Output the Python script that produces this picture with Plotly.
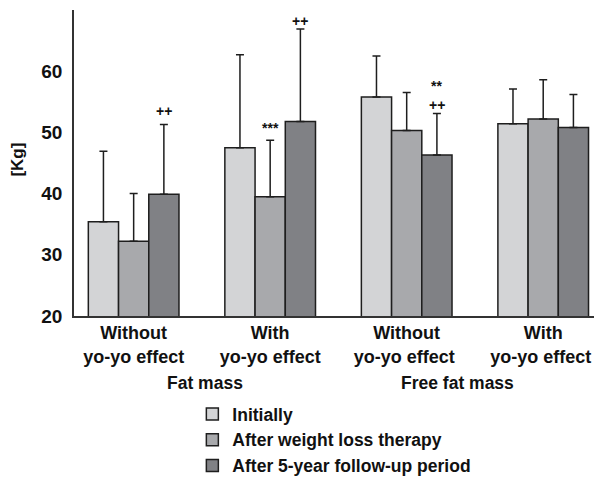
import plotly.graph_objects as go

groups = ["Without<br>yo-yo effect", "With<br>yo-yo effect", "Without<br>yo-yo effect ", "With<br>yo-yo effect "]
series_names = ["Initially", "After weight loss therapy", "After 5-year follow-up period"]
initially = [35.4, 47.5, 55.8, 51.4]
after_loss = [32.2, 39.5, 50.3, 52.2]
after_follow = [39.9, 51.8, 46.3, 50.8]
sd_initially = [11.5, 15.2, 6.7, 5.7]
sd_after_loss = [7.8, 9.2, 6.2, 6.4]
sd_after_follow = [11.4, 15.1, 6.8, 5.4]
section_labels = ["Fat mass", "Free fat mass"]
y_title = "[Kg]"
# significance marks: (series index, group index, text)
marks = [(2, 0, "++"), (1, 1, "***"), (2, 1, "++"), (2, 2, "++"), (2, 2, "**")]

colors = ["#d3d4d6", "#a8a9ac", "#808185"]
FONT = "Liberation Sans, Arial, sans-serif"
INK = "#111111"
bargap = 0.336

# the page body has an 8px default margin, so the figure is sized to fit the window
W, H = 594, 471

values = [initially, after_loss, after_follow]
sds = [sd_initially, sd_after_loss, sd_after_follow]

fig = go.Figure()
for name, vals, sd, col in zip(series_names, values, sds, colors):
    fig.add_trace(go.Bar(
        x=groups, y=vals, name=name,
        marker=dict(color=col, line=dict(color="#1e1e1e", width=1.5)),
        error_y=dict(type="data", array=sd, arrayminus=[0]*len(sd), symmetric=False,
                     color="#1e1e1e", thickness=1.5, width=4),
    ))

w = (1 - bargap) / 3
annots = []
for s, g, txt in marks:
    top = values[s][g] + sds[s][g]
    if txt == "**":
        shift = 27
    elif txt == "***":
        shift = 12
    elif g == 0:
        shift = 13
    else:
        shift = 8
    annots.append(dict(x=g + (s - 1) * w, y=top, xref="x", yref="y", text=txt,
                       showarrow=False, yanchor="middle", yshift=shift,
                       font=dict(family=FONT, size=14, color=INK, weight="bold")))

annots.append(dict(x=0.52, y=-0.218, xref="x", yref="paper", text=section_labels[0],
                   showarrow=False, yanchor="middle",
                   font=dict(family=FONT, size=17.5, color=INK, weight="bold")))
annots.append(dict(x=2.37, y=-0.218, xref="x", yref="paper", text=section_labels[1],
                   showarrow=False, yanchor="middle",
                   font=dict(family=FONT, size=17.5, color=INK, weight="bold")))
annots.append(dict(x=-0.1065, y=0.511, xref="paper", yref="paper", text=y_title,
                   showarrow=False, textangle=-90, xanchor="center", yanchor="middle",
                   font=dict(family=FONT, size=17, color=INK, weight="bold")))

fig.update_layout(
    annotations=annots,
    width=W, height=H,
    margin=dict(l=66, r=2, t=2, b=162.5, autoexpand=False),
    paper_bgcolor="white", plot_bgcolor="white",
    barmode="group", bargap=bargap, bargroupgap=0,
    font=dict(family=FONT, size=18, color=INK),
    showlegend=True,
    legend=dict(x=0.225, xref="paper", y=1 - 388 / H, yref="container",
                xanchor="left", yanchor="top",
                font=dict(family=FONT, size=17.5, color=INK, weight="bold"),
                tracegroupgap=0, bgcolor="rgba(0,0,0,0)"),
    xaxis=dict(range=[-0.437, 3.416], showline=True, linecolor="#333", linewidth=1.5,
               ticks="", showgrid=False, zeroline=False, automargin=False,
               tickfont=dict(family=FONT, size=18, color=INK, weight="bold")),
    yaxis=dict(range=[20, 70], showline=True, linecolor="#333", linewidth=1.5,
               ticks="", showgrid=False, zeroline=False, automargin=False,
               tickvals=[20, 30, 40, 50, 60],
               ticklabelstandoff=6,
               tickfont=dict(family=FONT, size=19, color=INK, weight="bold")),
)

fig.write_html("out.html")
